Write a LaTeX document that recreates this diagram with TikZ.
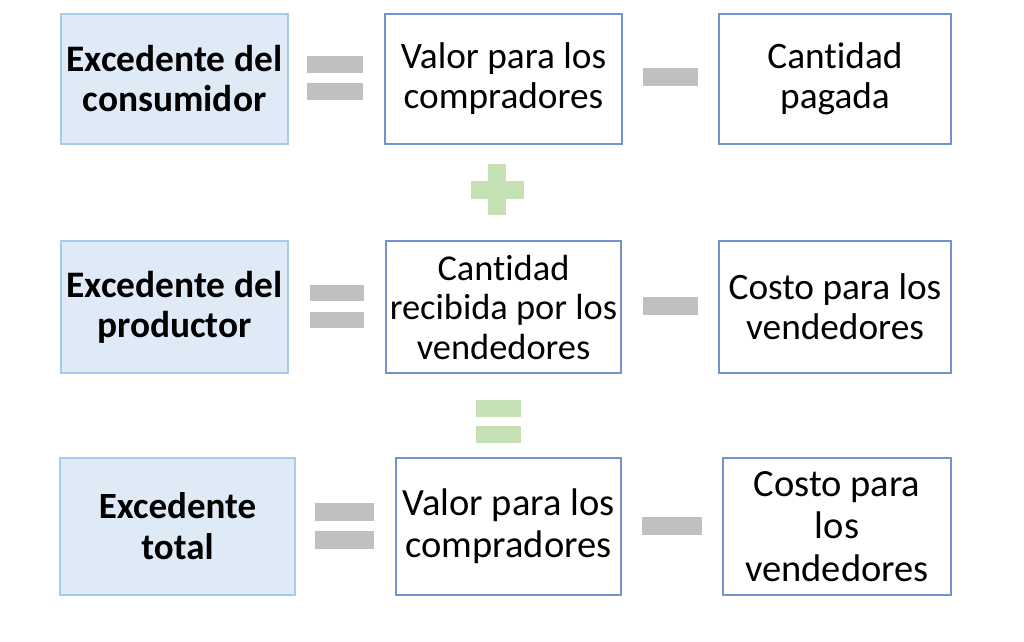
\documentclass[tikz,border=0pt]{standalone}
\usepackage{fontspec}
\setmainfont{Carlito}[Ligatures=NoCommon]
\usetikzlibrary{positioning}
\definecolor{boxline}{HTML}{7193D2}
\definecolor{namefill}{HTML}{DEEBF7}
\definecolor{nameline}{HTML}{A9CBEB}
\definecolor{signgray}{HTML}{BFBFBF}
\definecolor{signgreen}{HTML}{C5E0B4}

\begin{document}
\begin{tikzpicture}[x=1pt,y=-1pt,
  termbox/.style={draw=boxline,line width=1.2pt,fill=white,inner sep=0pt,align=center,
    font=\fontsize{37.3}{40}\selectfont},
  namebox/.style={draw=nameline,line width=1.2pt,fill=namefill,inner sep=0pt,align=center,
    font=\fontsize{37.4}{40}\selectfont\bfseries},
  graybar/.style={fill=signgray,inner sep=0pt,minimum height=17pt},
  greenbar/.style={fill=signgreen,inner sep=0pt}]
\useasboundingbox (0,0) rectangle (1024,641);
% row 1
\node[namebox,minimum width=227pt,minimum height=130pt] (cs) at (174.5,79) {Excedente del\\consumidor};
\node[termbox,minimum width=237pt,minimum height=130pt] (vc1) at (503.5,79) {Valor para los\\compradores};
\node[termbox,minimum width=232pt,minimum height=130pt] (cp) at (835,79) {Cantidad\\pagada};
\node[graybar,minimum width=56pt] (eq1a) at (335,64) {};
\node[graybar,minimum width=56pt] (eq1b) at (335,91) {};
\node[graybar,minimum width=55pt,minimum height=18pt] (mn1) at (670.5,77) {};
% plus
\node[greenbar,minimum width=53pt,minimum height=18pt] (plh) at (497.5,190) {};
\node[greenbar,minimum width=18pt,minimum height=51pt] (plv) at (497,189.5) {};
% row 2
\node[namebox,minimum width=227pt,minimum height=132pt] (ps) at (174.5,307) {Excedente del\\productor};
\node[termbox,minimum width=235pt,minimum height=132pt,font=\fontsize{36.4}{39.5}\selectfont] (cr) at (503.5,307) {Cantidad\\recibida por los\\vendedores};
\node[termbox,minimum width=232pt,minimum height=132pt] (cv2) at (835,307) {Costo para los\\vendedores};
\node[graybar,minimum width=54pt,minimum height=16pt] (eq2a) at (337,293) {};
\node[graybar,minimum width=54pt,minimum height=16pt] (eq2b) at (337,320) {};
\node[graybar,minimum width=55pt,minimum height=18pt] (mn2) at (670.5,306) {};
% green equal
\node[greenbar,minimum width=45pt,minimum height=17pt] (geqa) at (498.5,408.5) {};
\node[greenbar,minimum width=45pt,minimum height=17pt] (geqb) at (498.5,434) {};
% row 3
\node[namebox,minimum width=235pt,minimum height=137pt,font=\fontsize{37}{41}\selectfont\bfseries] (ts) at (177.5,526.5) {Excedente\\total};
\node[termbox,minimum width=225pt,minimum height=137pt,font=\fontsize{38.5}{42}\selectfont] (vc3) at (508.5,526.5) {Valor para los\\compradores};
\node[termbox,minimum width=228pt,minimum height=137pt,font=\fontsize{38.5}{42.5}\selectfont] (cv3) at (837,526.5) {Costo para\\los\\vendedores};
\node[graybar,minimum width=59pt,minimum height=18pt] (eq3a) at (344.5,512) {};
\node[graybar,minimum width=59pt,minimum height=18pt] (eq3b) at (344.5,540) {};
\node[graybar,minimum width=60pt,minimum height=18pt] (mn3) at (672,526) {};
\end{tikzpicture}
\end{document}
